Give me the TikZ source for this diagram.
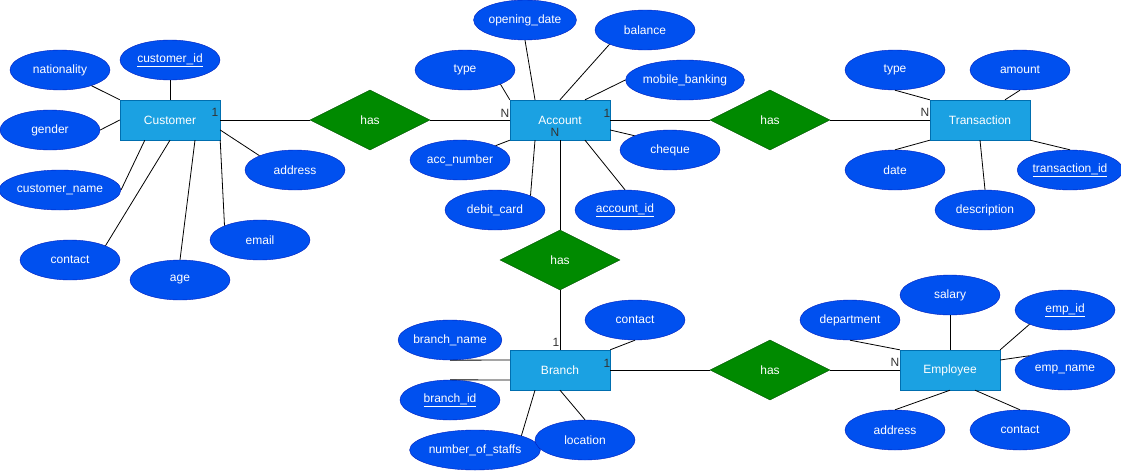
\documentclass[tikz,border=0pt]{standalone}
\usepackage{fontspec}
\setmainfont{Liberation Sans}
\usetikzlibrary{shapes.geometric}
\definecolor{attrfill}{HTML}{0050EF}
\definecolor{attrdraw}{HTML}{001DBC}
\definecolor{entfill}{HTML}{1BA1E2}
\definecolor{entdraw}{HTML}{006EAF}
\definecolor{relfill}{HTML}{008A00}
\definecolor{reldraw}{HTML}{005700}
\definecolor{cardcol}{HTML}{333333}
\tikzset{
  attr/.style={ellipse, fill=attrfill, draw=attrdraw, minimum width=100pt, minimum height=40pt, inner sep=0pt, text=white, font=\fontsize{12}{14}\selectfont},
  ent/.style={rectangle, fill=entfill, draw=entdraw, minimum width=100pt, minimum height=40pt, inner sep=0pt, text=white, font=\fontsize{12}{14}\selectfont},
  rel/.style={diamond, aspect=2, fill=relfill, draw=reldraw, minimum width=120pt, minimum height=60pt, inner sep=0pt, text=white, font=\fontsize{12}{14}\selectfont},
  card/.style={text=cardcol, inner sep=0pt, font=\fontsize{12}{14}\selectfont},
  conn/.style={draw=black, line width=0.8pt}
}
\begin{document}
\begin{tikzpicture}[x=1pt, y=-1pt]
\useasboundingbox (0,0) rectangle (1121,471);
% Entities
\node[ent] (cust) at (170,120) {Customer};
\node[ent] (acc) at (560,120) {Account};
\node[ent] (tr) at (980,120) {Transaction};
\node[ent] (br) at (560,370) {Branch};
\node[ent] (emp) at (950,370) {Employee};
% Relations
\node[rel] (r1) at (370,120) {has};
\node[rel] (r2) at (770,120) {has};
\node[rel] (r3) at (560,260) {has};
\node[rel] (r4) at (770,370) {has};
% Customer attributes
\node[attr] (cid) at (170,60) {\underline{customer\_id}};
\node[attr] (nat) at (60,70) {nationality};
\node[attr] (gen) at (50,130) {gender};
\node[attr] (cname) at (60,190) {customer\_name};
\node[attr] (ccon) at (70,260) {contact};
\node[attr] (age) at (180,280) {age};
\node[attr] (email) at (260,240) {email};
\node[attr] (caddr) at (295,170) {address};
% Account attributes
\node[attr] (od) at (525,20) {opening\_date};
\node[attr] (atype) at (465,70) {type};
\node[attr] (bal) at (645,30) {balance};
\node[attr] (mb) at (685,80) {mobile\_banking};
\node[attr] (chq) at (670,150) {cheque};
\node[attr] (aid) at (625,210) {\underline{account\_id}};
\node[attr] (dc) at (495,210) {debit\_card};
\node[attr] (anum) at (460,160) {acc\_number};
% Transaction attributes
\node[attr] (ttype) at (895,70) {type};
\node[attr] (amt) at (1020,70) {amount};
\node[attr] (date) at (895,170) {date};
\node[attr] (desc) at (985,210) {description};
\node[attr] (tid) at (1070,170) {\underline{transaction\_id}};
% Branch attributes
\node[attr] (bname) at (450,340) {branch\_name};
\node[attr] (bid) at (450,400) {\underline{branch\_id}};
\node[attr] (nos) at (475,450) {number\_of\_staffs};
\node[attr] (loc) at (585,440) {location};
\node[attr] (bcon) at (635,320) {contact};
% Employee attributes
\node[attr] (dept) at (850,320) {department};
\node[attr] (sal) at (950,295) {salary};
\node[attr] (eid) at (1065,310) {\underline{emp\_id}};
\node[attr] (ename) at (1065,370) {emp\_name};
\node[attr] (eaddr) at (895,430) {address};
\node[attr] (econ) at (1020,430) {contact};
% Customer connectors
\draw[conn] (cid.south) -- (cust.north);
\draw[conn] (nat) -- (cust.north west);
\draw[conn] (gen.east) -- (cust.west);
\draw[conn] (cname.east) -- ([xshift=25pt]cust.south west);
\draw[conn] (ccon.north east) -- (cust.south);
\draw[conn] (age.north) -- ([xshift=25pt]cust.south);
\draw[conn] (email.north west) -- (cust.south east);
\draw[conn] (caddr.north west) -- ([yshift=-10pt]cust.east);
% Account connectors
\draw[conn] (od.south) -- ([xshift=-25pt]acc.north);
\draw[conn] (atype.south east) -- (acc.north west);
\draw[conn] (bal.south west) -- (acc.north);
\draw[conn] (mb.west) -- ([xshift=25pt]acc.north);
\draw[conn] (chq.north west) -- ([yshift=-10pt]acc.east);
\draw[conn] (aid.north) -- ([xshift=25pt]acc.south);
\draw[conn] (dc.north east) -- ([xshift=-25pt]acc.south);
\draw[conn] (anum.north east) -- (acc.south west);
% Transaction connectors
\draw[conn] (ttype.south) -- (tr.north west);
\draw[conn] (amt.south) -- ([xshift=25pt]tr.north);
\draw[conn] (date.north) -- (tr.south west);
\draw[conn] (desc.north) -- (tr.south);
\draw[conn] (tid.north) -- (tr.south east);
% Branch connectors
\draw[conn] (bname.south) -- ([yshift=10pt]br.west);
\draw[conn] (bid.north) -- ([yshift=-10pt]br.west);
\draw[conn] (nos.north east) -- ([xshift=-25pt]br.south);
\draw[conn] (loc.north) -- (br.south);
\draw[conn] (bcon.south) -- (br.north east);
% Employee connectors
\draw[conn] (dept.south) -- (emp.north west);
\draw[conn] (sal.south) -- (emp.north);
\draw[conn] (eid.south west) -- (emp.north east);
\draw[conn] (ename.north west) -- ([yshift=10pt]emp.east);
\draw[conn] (eaddr.north) -- (emp.south);
\draw[conn] (econ.north) -- ([xshift=25pt]emp.south);
% Relationship connectors
\draw[conn] (cust.east) -- (r1.west);
\draw[conn] (r1.east) -- (acc.west);
\draw[conn] (acc.east) -- (r2.west);
\draw[conn] (r2.east) -- (tr.west);
\draw[conn] (acc.south) -- (r3.north);
\draw[conn] (r3.south) -- (br.north);
\draw[conn] (br.east) -- (r4.west);
\draw[conn] (r4.east) -- (emp.west);
% Cardinalities
\node[card] (c1) at (215,112) {1};
\node[card] (c2) at (505,113) {N};
\node[card] (c3) at (607,113) {1};
\node[card] (c4) at (555,132) {N};
\node[card] (c5) at (925,112) {N};
\node[card] (c6) at (556,342) {1};
\node[card] (c7) at (607,363) {1};
\node[card] (c8) at (895,362) {N};
\end{tikzpicture}
\end{document}
